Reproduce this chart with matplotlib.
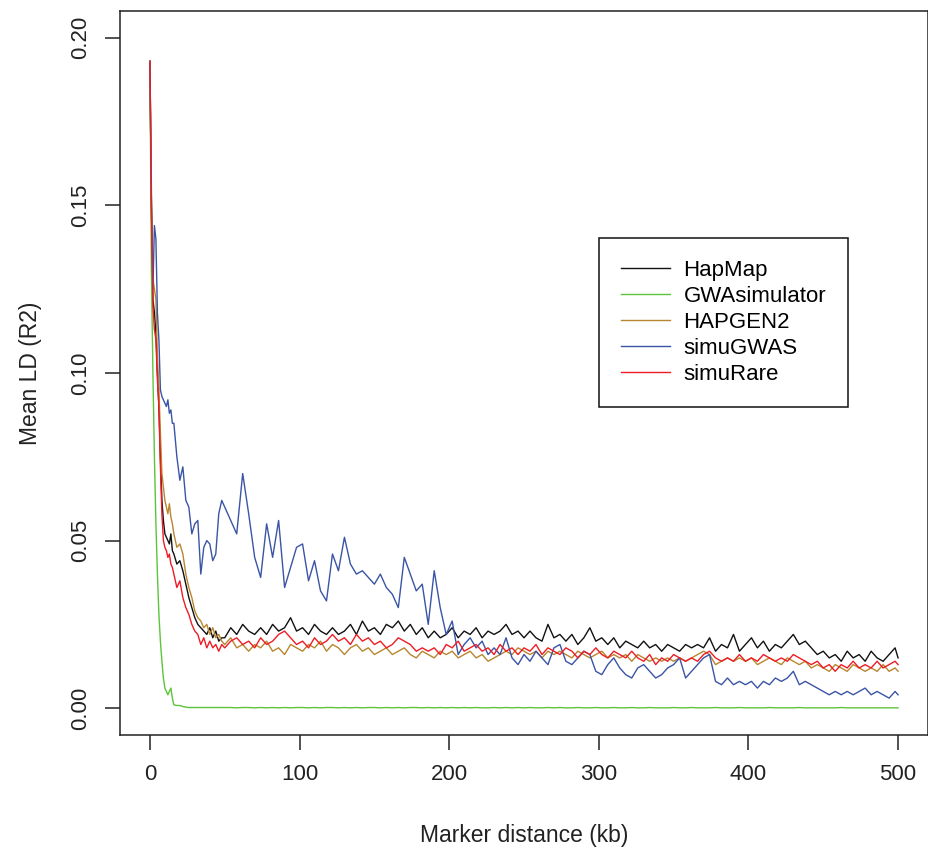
import matplotlib
matplotlib.use("Agg")
import matplotlib.pyplot as plt
import numpy as np

plt.rcParams['font.family'] = ['Liberation Sans', 'DejaVu Sans']

# Marker distance (kb)
distance_kb = [0, 1, 2, 3, 4, 5, 6, 7, 8, 9, 10, 11, 12, 13, 14, 15, 16,
               18, 20, 22, 24, 26, 28, 30, 32, 34, 36, 38, 40, 42, 44, 46, 48] \
    + list(range(50, 499, 4)) + [500]

hapmap = [0.193, 0.150, 0.122, 0.118, 0.112, 0.100, 0.090, 0.075, 0.062, 0.056,
          0.052, 0.051, 0.050, 0.049, 0.052, 0.047, 0.046,
          0.043, 0.044, 0.041, 0.037, 0.033, 0.030, 0.027, 0.025, 0.024, 0.023, 0.022, 0.024, 0.021, 0.023, 0.020, 0.021,
          0.021, 0.024, 0.022, 0.025, 0.023, 0.022, 0.024, 0.022, 0.025, 0.023,
          0.024, 0.027, 0.023, 0.024, 0.022, 0.025, 0.023, 0.022, 0.024, 0.022,
          0.023, 0.025, 0.022, 0.026, 0.023, 0.024, 0.022, 0.025, 0.024, 0.026,
          0.023, 0.025, 0.022, 0.024, 0.021, 0.023, 0.021, 0.022, 0.024, 0.021,
          0.023, 0.022, 0.024, 0.021, 0.023, 0.022, 0.023, 0.025, 0.022, 0.023,
          0.021, 0.023, 0.021, 0.020, 0.025, 0.021, 0.022, 0.020, 0.022, 0.019,
          0.021, 0.024, 0.020, 0.021, 0.019, 0.021, 0.018, 0.020, 0.019, 0.018,
          0.020, 0.018, 0.019, 0.017, 0.019, 0.018, 0.017, 0.019, 0.018, 0.019,
          0.018, 0.021, 0.017, 0.019, 0.018, 0.022, 0.017, 0.019, 0.021, 0.018,
          0.020, 0.017, 0.019, 0.018, 0.020, 0.022, 0.019, 0.020, 0.018, 0.016,
          0.017, 0.015, 0.016, 0.014, 0.017, 0.015, 0.016, 0.014, 0.017, 0.015,
          0.014, 0.016, 0.018,
          0.015]

gwasimulator = [0.193, 0.130, 0.100, 0.075, 0.055, 0.040, 0.028, 0.020, 0.014, 0.009,
                0.006, 0.005, 0.004, 0.005, 0.006, 0.003, 0.001,
                0.0008, 0.0008, 0.0005, 0.0003, 0.0002, 0.0002, 0.0002, 0.0002, 0.0002, 0.0002, 0.0002, 0.0002, 0.0002, 0.0002, 0.0002, 0.0002,
                0.0002, 0.0002, 0.0001, 0.0002, 0.0002, 0.0001, 0.0002, 0.0001, 0.0002, 0.0001,
                0.0002, 0.0001, 0.0002, 0.0002, 0.0001, 0.0002, 0.0001, 0.0002, 0.0002, 0.0001,
                0.0002, 0.0001, 0.0002, 0.0001, 0.0002, 0.0002, 0.0001, 0.0002, 0.0001, 0.0002,
                0.0001, 0.0002, 0.0002, 0.0001, 0.0002, 0.0001, 0.0002, 0.0001, 0.0002, 0.0001,
                0.0002, 0.0001, 0.0002, 0.0001, 0.0001, 0.0002, 0.0001, 0.0002, 0.0001, 0.0002,
                0.0001, 0.0002, 0.0001, 0.0001, 0.0002, 0.0001, 0.0002, 0.0001, 0.0001, 0.0002,
                0.0001, 0.0001, 0.0002, 0.0001, 0.0001, 0.0002, 0.0001, 0.0001, 0.0002, 0.0001,
                0.0001, 0.0002, 0.0001, 0.0001, 0.0001, 0.0002, 0.0001, 0.0001, 0.0002, 0.0001,
                0.0001, 0.0001, 0.0002, 0.0001, 0.0001, 0.0001, 0.0002, 0.0001, 0.0001, 0.0001,
                0.0001, 0.0002, 0.0001, 0.0001, 0.0001, 0.0001, 0.0002, 0.0001, 0.0001, 0.0001,
                0.0001, 0.0001, 0.0001, 0.0002, 0.0001, 0.0001, 0.0001, 0.0001, 0.0001, 0.0001,
                0.0001, 0.0001, 0.0001,
                0.0001]

hapgen2 = [0.193, 0.155, 0.128, 0.125, 0.122, 0.105, 0.095, 0.082, 0.070, 0.066,
           0.062, 0.060, 0.058, 0.061, 0.057, 0.055, 0.052,
           0.048, 0.049, 0.046, 0.040, 0.036, 0.033, 0.029, 0.027, 0.026, 0.024, 0.025, 0.022, 0.024, 0.021, 0.022, 0.020,
           0.019, 0.021, 0.018, 0.019, 0.017, 0.019, 0.018, 0.020, 0.017, 0.018,
           0.016, 0.019, 0.018, 0.017, 0.019, 0.018, 0.020, 0.017, 0.019, 0.018,
           0.016, 0.018, 0.019, 0.017, 0.018, 0.016, 0.017, 0.018, 0.016, 0.017,
           0.018, 0.016, 0.015, 0.017, 0.016, 0.015, 0.017, 0.016, 0.017, 0.015,
           0.016, 0.017, 0.015, 0.016, 0.014, 0.015, 0.016, 0.017, 0.016, 0.018,
           0.017, 0.016, 0.017, 0.015, 0.017, 0.016, 0.017, 0.016, 0.015, 0.017,
           0.016, 0.015, 0.016, 0.017, 0.015, 0.016, 0.015, 0.016, 0.014, 0.016,
           0.015, 0.014, 0.015, 0.014, 0.015, 0.014, 0.015, 0.014, 0.015, 0.016,
           0.017, 0.016, 0.013, 0.014, 0.015, 0.014, 0.015, 0.014, 0.015, 0.013,
           0.014, 0.015, 0.014, 0.013, 0.015, 0.014, 0.013, 0.014, 0.012, 0.013,
           0.012, 0.011, 0.013, 0.012, 0.011, 0.013, 0.012, 0.011, 0.012, 0.011,
           0.013, 0.011, 0.012,
           0.011]

simugwas = [0.193, 0.150, 0.125, 0.144, 0.140, 0.118, 0.110, 0.095, 0.093, 0.092,
            0.091, 0.090, 0.092, 0.088, 0.089, 0.085, 0.085,
            0.075, 0.068, 0.072, 0.062, 0.060, 0.052, 0.055, 0.056, 0.040, 0.048, 0.050, 0.049, 0.044, 0.046, 0.058, 0.062,
            0.060, 0.056, 0.052, 0.070, 0.058, 0.045, 0.039, 0.055, 0.045, 0.056,
            0.036, 0.042, 0.048, 0.049, 0.038, 0.044, 0.035, 0.032, 0.046, 0.041,
            0.051, 0.043, 0.040, 0.041, 0.039, 0.037, 0.040, 0.036, 0.034, 0.030,
            0.045, 0.040, 0.035, 0.037, 0.025, 0.041, 0.030, 0.022, 0.026, 0.016,
            0.019, 0.021, 0.018, 0.020, 0.016, 0.018, 0.016, 0.021, 0.015, 0.013,
            0.016, 0.014, 0.017, 0.015, 0.013, 0.018, 0.019, 0.014, 0.013, 0.015,
            0.017, 0.016, 0.011, 0.010, 0.013, 0.015, 0.012, 0.010, 0.009, 0.012,
            0.013, 0.011, 0.009, 0.010, 0.012, 0.013, 0.015, 0.009, 0.011, 0.013,
            0.015, 0.016, 0.008, 0.007, 0.009, 0.007, 0.008, 0.007, 0.008, 0.006,
            0.008, 0.007, 0.009, 0.008, 0.009, 0.011, 0.007, 0.008, 0.007, 0.006,
            0.005, 0.004, 0.005, 0.004, 0.005, 0.004, 0.005, 0.006, 0.004, 0.005,
            0.004, 0.003, 0.005,
            0.004]

simurare = [0.193, 0.148, 0.120, 0.113, 0.110, 0.098, 0.090, 0.072, 0.058, 0.050,
            0.048, 0.047, 0.045, 0.046, 0.043, 0.042, 0.040,
            0.036, 0.038, 0.033, 0.030, 0.028, 0.025, 0.023, 0.022, 0.019, 0.021, 0.018, 0.020, 0.018, 0.019, 0.017, 0.019,
            0.018, 0.020, 0.021, 0.019, 0.020, 0.018, 0.021, 0.019, 0.020, 0.022,
            0.023, 0.021, 0.019, 0.020, 0.018, 0.021, 0.019, 0.020, 0.022, 0.020,
            0.021, 0.019, 0.022, 0.020, 0.021, 0.019, 0.020, 0.018, 0.019, 0.021,
            0.020, 0.019, 0.017, 0.018, 0.017, 0.018, 0.016, 0.019, 0.018, 0.020,
            0.017, 0.018, 0.019, 0.017, 0.018, 0.016, 0.019, 0.017, 0.018, 0.016,
            0.018, 0.017, 0.019, 0.016, 0.018, 0.017, 0.016, 0.018, 0.017, 0.015,
            0.017, 0.016, 0.018, 0.016, 0.015, 0.017, 0.016, 0.015, 0.017, 0.015,
            0.014, 0.016, 0.013, 0.015, 0.014, 0.016, 0.015, 0.014, 0.015, 0.014,
            0.016, 0.017, 0.015, 0.014, 0.015, 0.014, 0.016, 0.014, 0.015, 0.014,
            0.016, 0.015, 0.014, 0.015, 0.014, 0.016, 0.015, 0.014, 0.013, 0.014,
            0.012, 0.013, 0.011, 0.013, 0.012, 0.014, 0.012, 0.013, 0.012, 0.014,
            0.012, 0.013, 0.014,
            0.013]

series_names = ["HapMap", "GWAsimulator", "HAPGEN2", "simuGWAS", "simuRare"]
series_values = [hapmap, gwasimulator, hapgen2, simugwas, simurare]
series_colors = ["#111111", "#5cc43a", "#b8862e", "#3a54a6", "#ee1c24"]

x_ticks = [0, 100, 200, 300, 400, 500]
y_ticks = [0.00, 0.05, 0.10, 0.15, 0.20]
y_tick_labels = ["0.00", "0.05", "0.10", "0.15", "0.20"]

fig = plt.figure(figsize=(9.29, 8.5), dpi=100)
ax = fig.add_axes([120 / 929, 115 / 850, 808 / 929, 724 / 850])

for name, vals, col in zip(series_names, series_values, series_colors):
    assert len(vals) == len(distance_kb), name
    ax.plot(distance_kb, vals, color=col, lw=1.0, label=name)

ax.set_xlim(-20, 520)
ax.set_ylim(-0.008, 0.208)
ax.set_xticks(x_ticks)
ax.set_xticklabels([str(t) for t in x_ticks])
ax.set_yticks(y_ticks)
ax.set_yticklabels(y_tick_labels, rotation=90, va='center')

for s in ax.spines.values():
    s.set_linewidth(1.1)
    s.set_color('#222222')

ax.tick_params(axis='both', direction='out', length=11, width=1.1,
               labelsize=16, colors='#222222')
ax.tick_params(axis='x', pad=10)
ax.tick_params(axis='y', pad=10)

ax.set_xlabel("Marker distance (kb)", fontsize=16.5, labelpad=28, color='#222222')
ax.set_ylabel("Mean LD (R2)", fontsize=16.5, labelpad=20, color='#222222')

leg = ax.legend(loc='upper left', bbox_to_anchor=(0.593, 0.6865), borderaxespad=0,
                fancybox=False, framealpha=1, edgecolor='#111111',
                fontsize=16, handlelength=2.2, handletextpad=0.6,
                labelspacing=0.22, borderpad=1.0)
leg.get_frame().set_linewidth(1.1)

fig.savefig("out.png", dpi=100)
